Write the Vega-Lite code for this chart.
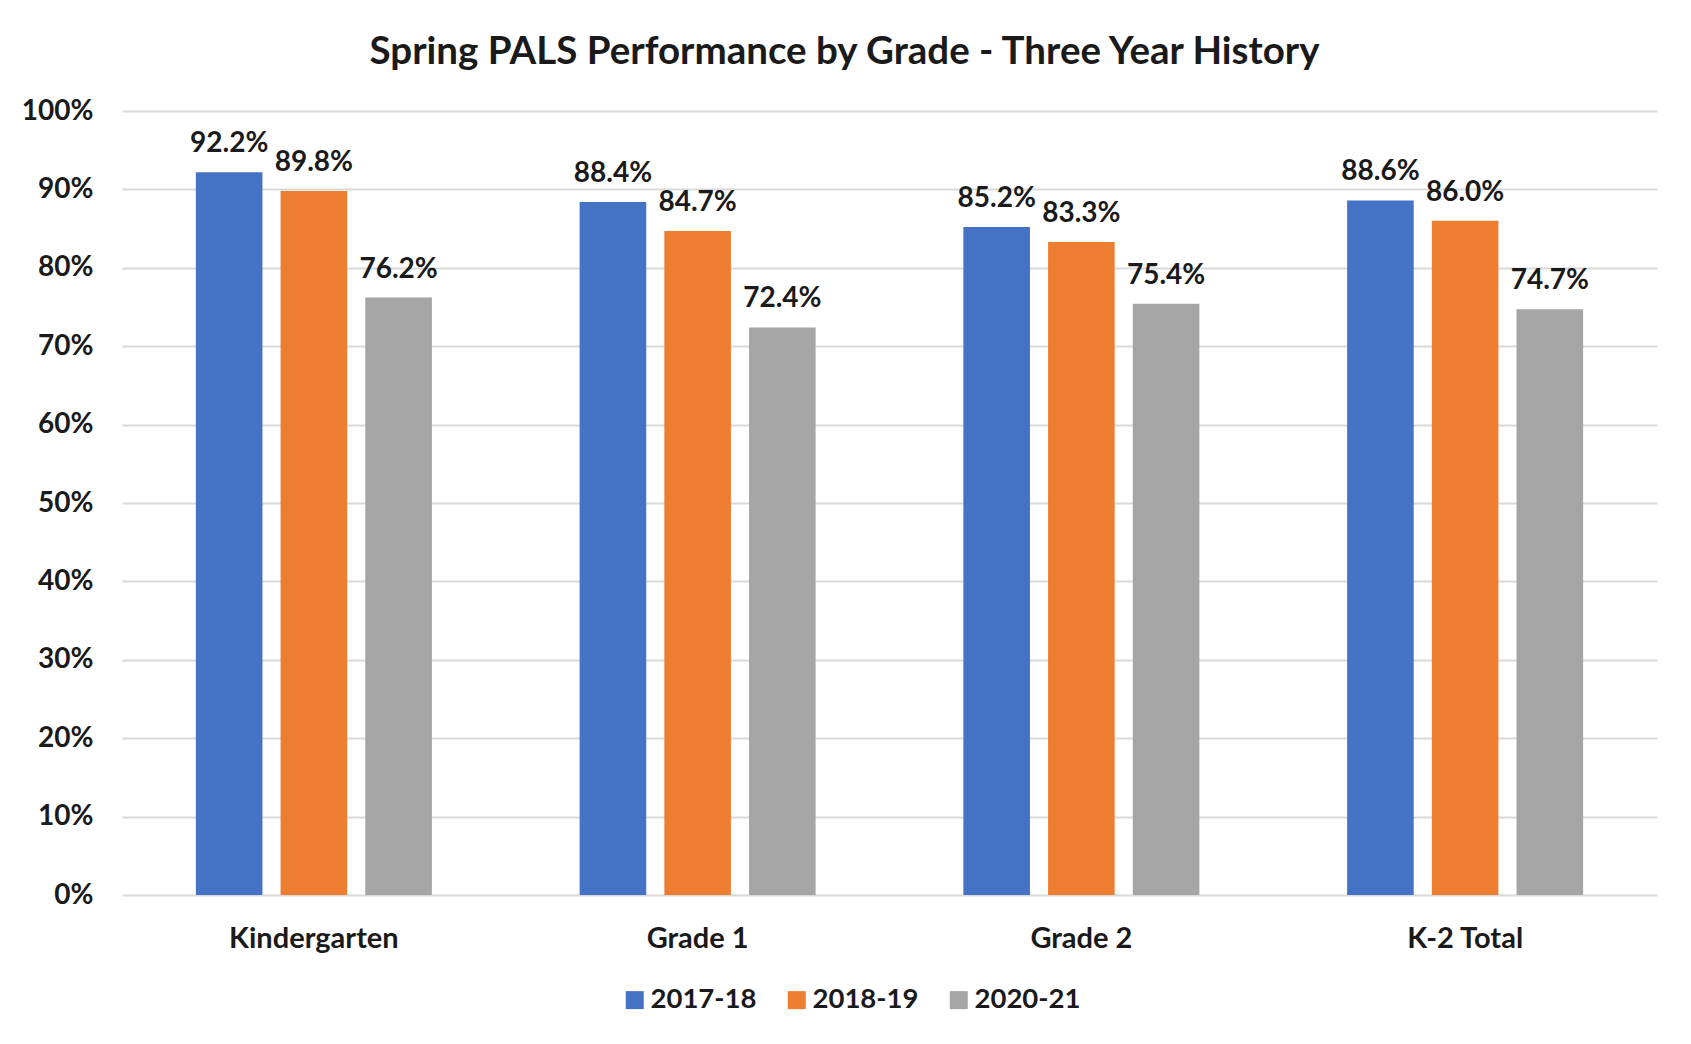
{
  "$schema": "https://vega.github.io/schema/vega-lite/v6.json",
  "width": 1535,
  "height": 784,
  "autosize": {"type": "none"},
  "padding": {"left": 122, "top": 111, "right": 34, "bottom": 149},
  "background": "white",
  "title": {
    "text": "Spring PALS Performance by Grade - Three Year History",
    "font": "Lato",
    "fontSize": 38.5,
    "fontWeight": "bold",
    "color": "#1a1a1a",
    "anchor": "middle",
    "dx": -45,
    "offset": 25
  },
  "config": {"view": {"stroke": null}},
  "data": {
    "values": [
      {"grade": "Kindergarten", "year": "2017-18", "value": 0.922},
      {"grade": "Kindergarten", "year": "2018-19", "value": 0.898},
      {"grade": "Kindergarten", "year": "2020-21", "value": 0.762},
      {"grade": "Grade 1", "year": "2017-18", "value": 0.884},
      {"grade": "Grade 1", "year": "2018-19", "value": 0.847},
      {"grade": "Grade 1", "year": "2020-21", "value": 0.724},
      {"grade": "Grade 2", "year": "2017-18", "value": 0.852},
      {"grade": "Grade 2", "year": "2018-19", "value": 0.833},
      {"grade": "Grade 2", "year": "2020-21", "value": 0.754},
      {"grade": "K-2 Total", "year": "2017-18", "value": 0.886},
      {"grade": "K-2 Total", "year": "2018-19", "value": 0.860},
      {"grade": "K-2 Total", "year": "2020-21", "value": 0.747}
    ]
  },
  "encoding": {
    "x": {
      "field": "grade",
      "type": "nominal",
      "sort": ["Kindergarten", "Grade 1", "Grade 2", "K-2 Total"],
      "scale": {"paddingInner": 0.385, "paddingOuter": 0.1925},
      "axis": {
        "title": null,
        "domain": false,
        "ticks": false,
        "grid": false,
        "labelAngle": 0,
        "labelFont": "Lato",
        "labelFontSize": 29,
        "labelFontWeight": "bold",
        "labelColor": "#1a1a1a",
        "labelPadding": 29
      }
    },
    "xOffset": {
      "field": "year",
      "type": "nominal",
      "scale": {"paddingInner": 0.214, "paddingOuter": 0}
    },
    "y": {
      "field": "value",
      "type": "quantitative",
      "scale": {"domain": [0, 1], "nice": false},
      "axis": {
        "title": null,
        "values": [0, 0.1, 0.2, 0.3, 0.4, 0.5, 0.6, 0.7, 0.8, 0.9, 1],
        "format": ".0%",
        "domain": false,
        "ticks": false,
        "grid": true,
        "gridColor": "#d9d9d9",
        "gridWidth": 2,
        "labelFont": "Lato",
        "labelFontSize": 28,
        "labelFontWeight": "bold",
        "labelColor": "#1a1a1a",
        "labelPadding": 29
      }
    }
  },
  "layer": [
    {
      "mark": {"type": "bar"},
      "encoding": {
        "color": {
          "field": "year",
          "type": "nominal",
          "scale": {"domain": ["2017-18", "2018-19", "2020-21"], "range": ["#4472C4", "#ED7D31", "#A5A5A5"]},
          "legend": {
            "orient": "none",
            "direction": "horizontal",
            "legendX": 499,
            "legendY": 875,
            "title": null,
            "symbolType": "square",
            "symbolSize": 324,
            "symbolStrokeWidth": 0,
            "labelFont": "Lato",
            "labelFontSize": 27.5,
            "labelFontWeight": "bold",
            "labelColor": "#1a1a1a",
            "labelOffset": 2,
            "columnPadding": 26
          }
        }
      }
    },
    {
      "mark": {
        "type": "text",
        "baseline": "alphabetic",
        "dy": -20,
        "font": "Lato",
        "fontSize": 28,
        "fontWeight": "bold",
        "color": "#1a1a1a"
      },
      "encoding": {
        "text": {"field": "value", "type": "quantitative", "format": ".1%"}
      }
    }
  ]
}
